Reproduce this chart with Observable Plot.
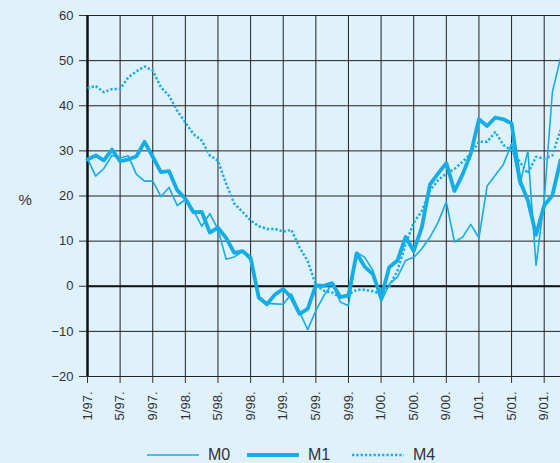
<!DOCTYPE html>
<html><head><meta charset="utf-8">
<script src="https://cdn.jsdelivr.net/npm/d3@7"></script>
<script src="https://cdn.jsdelivr.net/npm/@observablehq/plot@0.6"></script>
<style>
body{margin:0;background:#dff1fb;font-family:"Liberation Sans",Arial,Helvetica,sans-serif;color:#333;}
#wrap{width:560px;height:463px;overflow:hidden;background:#dff1fb;position:relative}
#legend{display:flex;align-items:center;height:17px;padding-top:16px;font-size:16px;color:#333}
#legend .item{display:flex;align-items:center;position:absolute}
#legend svg{display:block}
</style></head><body><div id="wrap"><div id="chart"></div><div id="legend"></div></div>
<script>
const seriesNames = ["M0", "M1", "M4"];
// monthly values from 1/97 to 11/01 (index 0 = January 1997)
const m0 = [28.3,24.4,26.1,29,28.4,28.9,24.8,23.3,23.3,19.9,21.9,17.9,19.2,16.8,13.3,16.1,12.6,6,6.5,7.7,5.7,-2.8,-3.8,-3.9,-4,-1.7,-5.7,-9.6,-5.4,-2,0.5,-3.5,-4.3,7.5,6.4,3.5,-3.5,0.5,2,5.7,6.4,8.3,10.9,14.2,18.7,9.8,10.9,13.7,10.7,22.2,24.6,27,31.6,22.5,30,4.6,19,43,50.5];
const m1 = [28.1,29,27.9,30.3,27.7,28.1,28.8,32,28.7,25.3,25.5,21.3,19.4,16.4,16.5,11.9,13,10.7,7.4,7.8,6.3,-2.5,-4,-1.8,-0.6,-2.5,-6.1,-5,0.2,0.1,0.7,-2.4,-2,7.3,4.3,2.7,-2.5,4.2,5.7,10.9,7.8,13.1,22.6,25,27.3,21.1,24.8,29.4,37,35.5,37.4,37,36.1,23.5,19,11.4,17.9,20.1,27.9];
const m4 = [43.9,44.4,43,43.7,43.7,46.3,47.6,48.7,47.8,44.1,42.2,38.9,36.3,33.7,32.3,29,27.8,22.7,18.3,16.5,14.6,13.3,12.7,12.7,12.1,12.5,8.6,5.6,0.3,-1,-1.4,-2.5,-1.8,-0.8,-0.8,-1.1,-1.7,0,3.4,9.3,14.1,16.7,21.3,23.5,25,26,27.6,29.4,32,32,34.2,31.3,30.1,27.6,25,28.7,28.3,29,34.6];
const xTickPositions = [0,4,8,12,16,20,24,28,32,36,40,44,48,52,56];
const xTickLabels = ["1/97.","5/97.","9/97.","1/98.","5/98.","9/98.","1/99.","5/99.","9/99.","1/00.","5/00.","9/00.","1/01.","5/01.","9/01."];
const yTicks = [-20,-10,0,10,20,30,40,50,60];

const color = "#14ade6";
const dotted = "2.3,2";
const rows = [];
[m0, m1, m4].forEach((vals, s) => vals.forEach((v, i) => rows.push({series: seriesNames[s], month: i, value: v})));
const fmt = d => d < 0 ? "\u2212" + Math.abs(d) : String(d);

const chart = Plot.plot({
  width: 560, height: 430,
  marginTop: 15, marginLeft: 87, marginRight: 0, marginBottom: 54,
  style: {background: "transparent", fontFamily: "'Liberation Sans', Arial, sans-serif", fontSize: "13px", color: "#333", overflow: "visible"},
  x: {domain: [0, 58]},
  y: {domain: [-20, 60]},
  marks: [
    Plot.gridY(yTicks, {stroke: "#222", strokeOpacity: 1}),
    Plot.gridX(xTickPositions, {stroke: "#222", strokeOpacity: 1}),
    Plot.axisY(yTicks, {tickSize: 8, tickPadding: 6, tickFormat: fmt, label: null}),
    Plot.axisX(xTickPositions, {tickSize: 7, tickPadding: 8, tickRotate: -90, tickFormat: d => xTickLabels[xTickPositions.indexOf(d)], label: null}),
    Plot.ruleY([0], {stroke: "#111", strokeWidth: 2.2}),
    Plot.ruleX([0], {stroke: "#111", strokeWidth: 2.5}),
    Plot.text(["%"], {frameAnchor: "left", dx: -69, dy: 4, fontSize: 15, fill: "#333"}),
    Plot.line(rows.filter(d => d.series === "M4"), {x: "month", y: "value", stroke: color, strokeWidth: 2.5, strokeDasharray: dotted, strokeLinecap: "butt", strokeLinejoin: "miter"}),
    Plot.line(rows.filter(d => d.series === "M0"), {x: "month", y: "value", stroke: color, strokeWidth: 1.6}),
    Plot.line(rows.filter(d => d.series === "M1"), {x: "month", y: "value", stroke: color, strokeWidth: 3.8})
  ]
});
document.getElementById("chart").appendChild(chart);

// legend
const legendItems = [
  {name: "M0", width: 1.6, dash: null, left: 147},
  {name: "M1", width: 3.8, dash: null, left: 247},
  {name: "M4", width: 2.5, dash: dotted, left: 352}
];
const legend = d3.select("#legend");
legendItems.forEach(it => {
  const item = legend.append("div").attr("class", "item").style("left", it.left + "px");
  const svg = item.append("svg").attr("width", 52).attr("height", 10);
  svg.append("line").attr("x1", 0).attr("x2", 52).attr("y1", 5).attr("y2", 5)
    .attr("stroke", color).attr("stroke-width", it.width).attr("stroke-dasharray", it.dash);
  item.append("span").text(it.name).style("margin-left", "9px");
});
</script>
</body></html>
